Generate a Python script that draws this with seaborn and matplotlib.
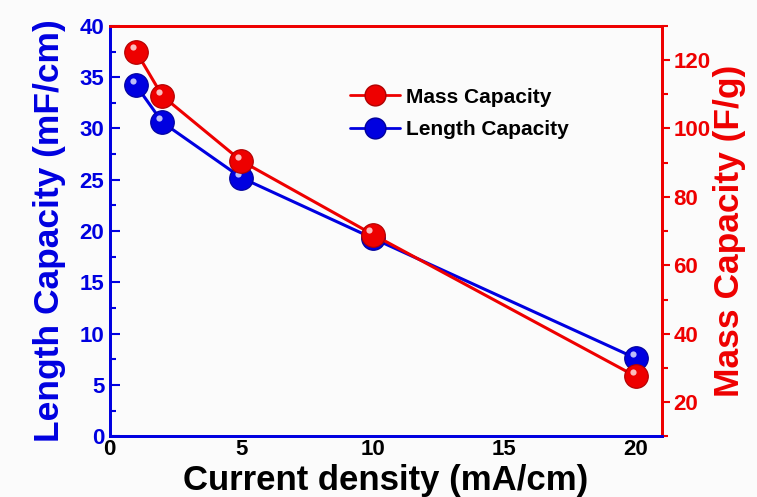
import matplotlib
matplotlib.use("Agg")
import matplotlib.pyplot as plt
import seaborn as sns
import pandas as pd
from matplotlib.ticker import MultipleLocator
from matplotlib.lines import Line2D
import matplotlib.transforms as mtransforms

current_density = [1, 2, 5, 10, 20]
length_capacity = [34.2, 30.6, 25.2, 19.3, 7.6]
mass_capacity = [122.5, 109.5, 90.5, 69.0, 27.5]

sns.set_theme(style="white")
plt.rcParams['font.family'] = ['Liberation Sans', 'DejaVu Sans']
plt.rcParams['font.weight'] = 'bold'
plt.rcParams['text.color'] = 'black'

BLUE = '#0000e0'
RED = '#ee0000'

df = pd.DataFrame({"x": current_density, "L": length_capacity, "M": mass_capacity})

fig = plt.figure(figsize=(7.57, 4.97), dpi=100)
fig.patch.set_facecolor('#fbfbfb')
ax = fig.add_axes([0.145, 0.122, 0.73, 0.826])
ax.set_facecolor('#fbfbfb')
ax2 = ax.twinx()

sns.lineplot(data=df, x="x", y="L", ax=ax, color=BLUE, lw=2.2, marker='o',
             markersize=17, markeredgecolor='#00009a', markeredgewidth=0.8, zorder=3)
sns.lineplot(data=df, x="x", y="M", ax=ax2, color=RED, lw=2.2, marker='o',
             markersize=17, markeredgecolor='#b00000', markeredgewidth=0.8, zorder=3)

# highlights for shaded sphere look
for a, ys in ((ax, length_capacity), (ax2, mass_capacity)):
    tr = mtransforms.offset_copy(a.transData, fig=fig, x=-2.5, y=3, units='points')
    a.scatter(current_density, ys, s=20, color='white', alpha=0.75, transform=tr,
              zorder=5, linewidths=0)

ax.set_xlim(0, 21)
ax.set_ylim(0, 40)
ax2.set_ylim(10, 130)

ax.xaxis.set_major_locator(MultipleLocator(5))
ax.xaxis.set_minor_locator(MultipleLocator(2.5))
ax.yaxis.set_major_locator(MultipleLocator(5))
ax.yaxis.set_minor_locator(MultipleLocator(2.5))
ax2.yaxis.set_major_locator(MultipleLocator(20))
ax2.yaxis.set_minor_locator(MultipleLocator(10))
ax2.set_yticks([20, 40, 60, 80, 100, 120])

ax.tick_params(axis='x', which='both', direction='in', colors=BLUE, labelcolor='black',
               labelsize=16, width=1.5, pad=2)
ax.tick_params(axis='x', which='major', length=7)
ax.tick_params(axis='x', which='minor', length=4)
ax.tick_params(axis='y', which='both', direction='in', colors=BLUE, labelcolor=BLUE,
               labelsize=16, width=1.5, pad=4)
ax.tick_params(axis='y', which='major', length=7)
ax.tick_params(axis='y', which='minor', length=4)
ax2.tick_params(axis='y', which='both', direction='out', colors=RED, labelcolor=RED,
                labelsize=16, width=1.5, pad=2)
ax2.tick_params(axis='y', which='major', length=6)
ax2.tick_params(axis='y', which='minor', length=4)

for lab in ax.get_xticklabels() + ax.get_yticklabels() + ax2.get_yticklabels():
    lab.set_fontweight('bold')

for a in (ax, ax2):
    for s in a.spines.values():
        s.set_linewidth(2)
    a.spines['left'].set_color(BLUE)
    a.spines['bottom'].set_color(BLUE)
    a.spines['top'].set_color(RED)
    a.spines['right'].set_color(RED)

ax.set_xlabel("Current density (mA/cm)", fontsize=25, fontweight='bold', color='black', labelpad=3)
ax.set_ylabel("Length Capacity (mF/cm)", fontsize=25.5, fontweight='bold', color=BLUE, labelpad=10)
ax2.set_ylabel("Mass Capacity (F/g)", fontsize=25.5, fontweight='bold', color=RED, labelpad=2)

handles = [Line2D([0], [0], color=RED, lw=2, marker='o', markersize=15,
                  markeredgecolor='#b00000', label='Mass Capacity'),
           Line2D([0], [0], color=BLUE, lw=2, marker='o', markersize=15,
                  markeredgecolor='#00009a', label='Length Capacity')]
leg = ax.legend(handles=handles, loc='upper left', bbox_to_anchor=(0.40, 0.895), frameon=False,
                prop={'weight': 'bold', 'size': 15}, handlelength=2.4, handletextpad=0.3,
                labelspacing=0.65)
for t in leg.get_texts():
    t.set_color('black')
ax.grid(False)
ax2.grid(False)

fig.savefig("out.png", dpi=100, facecolor=fig.get_facecolor())
